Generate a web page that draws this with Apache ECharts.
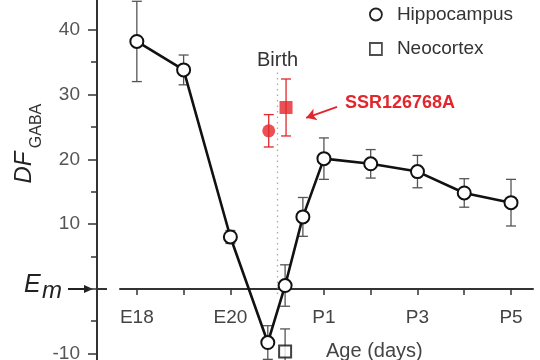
<!DOCTYPE html>
<html><head><meta charset="utf-8">
<script src="https://cdn.jsdelivr.net/npm/echarts@6/dist/echarts.min.js"></script>
<style>html,body{margin:0;padding:0;background:#fff}#c{width:540px;height:360px}</style>
</head><body><div id="c"></div>
<script>
// ---- data ----
const xTickValues = [0, 1, 2, 4, 5, 6, 7, 8];
const xLabelValues = [0, 2, 4, 6, 8];
const xLabelText = {0: 'E18', 2: 'E20', 4: 'P1', 6: 'P3', 8: 'P5'};
const yLabelValues = [40, 30, 20, 10, -10];
const yMajorTicks = [40, 30, 20, 10, 0, -10];
const yMinorTicks = [35, 25, 15, 5, -5];

const hipX = [0, 1, 2, 2.8, 3.17, 3.55, 4, 5, 6, 7, 8];
const hipY = [38.2, 33.8, 8.0, -8.3, 0.5, 11.1, 20.1, 19.3, 18.1, 14.8, 13.3];
const hipErr = [6.2, 2.3, 1, 2.6, 3.2, 3, 3.2, 2.2, 2.5, 2.2, 3.6];

const neoX = [3.17];
const neoY = [-9.7];
const neoErr = [3.5];

const drugCircX = [2.82];
const drugCircY = [24.4];
const drugCircErr = [2.5];
const drugSqX = [3.19];
const drugSqY = [28.0];
const drugSqErr = [4.4];

const birthX = 3;

// ---- build ----
const zip3 = (x, y, e) => x.map((v, i) => [v, y[i], e[i]]);
const zip2 = (x, y) => x.map((v, i) => [v, y[i]]);

function errSeries(name, data, color) {
  return {
    type: 'custom', name: name, data: data, z: 1, silent: true,
    renderItem: function (params, api) {
      const x = api.value(0), y = api.value(1), e = api.value(2);
      const t = api.coord([x, y + e]), b = api.coord([x, y - e]);
      const w = 5;
      const st = {stroke: color, lineWidth: 1.3};
      return {type: 'group', children: [
        {type: 'line', shape: {x1: t[0], y1: t[1], x2: b[0], y2: b[1]}, style: st},
        {type: 'line', shape: {x1: t[0] - w, y1: t[1], x2: t[0] + w, y2: t[1]}, style: st},
        {type: 'line', shape: {x1: b[0] - w, y1: b[1], x2: b[0] + w, y2: b[1]}, style: st}
      ]};
    }
  };
}

const FONT = 'Liberation Sans, Arial, sans-serif';
const RED = '#e3262b';
const XMIN = -0.36, XMAX = 8.47, YMIN = -11, YMAX = 44.6;

const chart = echarts.init(document.getElementById('c'), null, {renderer: 'canvas'});
chart.setOption({
  animation: false,
  backgroundColor: '#fff',
  textStyle: {fontFamily: FONT},
  grid: [
    {left: 120, right: 7, top: 0, bottom: 0, containLabel: false, outerBoundsMode: 'none'},
    {left: 120, right: 7, top: 0, bottom: 71, containLabel: false, outerBoundsMode: 'none'}
  ],
  legend: {
    orient: 'vertical', left: 364, top: 0, itemGap: 15.5,
    itemWidth: 12, itemHeight: 12,
    textStyle: {fontSize: 19, color: '#333', fontFamily: FONT, padding: [0, 0, 0, 10]},
    data: [
      {name: 'Hippocampus', icon: 'circle', itemStyle: {color: '#fff', borderColor: '#222', borderWidth: 1.8}},
      {name: 'Neocortex', icon: 'rect', itemStyle: {color: '#fff', borderColor: '#222', borderWidth: 1.8}}
    ]
  },
  xAxis: [{
    type: 'value', gridIndex: 0, min: XMIN, max: XMAX,
    splitLine: {show: false}, axisLine: {show: false}, axisTick: {show: false}, axisLabel: {show: false}
  }, {
    type: 'value', gridIndex: 1, min: XMIN, max: XMAX, position: 'bottom',
    splitLine: {show: false},
    axisLine: {onZero: false, lineStyle: {color: '#333', width: 2}},
    axisTick: {show: true, length: 6, customValues: xTickValues, lineStyle: {color: '#333', width: 1.5}},
    axisLabel: {customValues: xLabelValues, formatter: v => xLabelText[v] || '', fontSize: 19, color: '#444', margin: 19, fontFamily: FONT}
  }],
  yAxis: [{
    type: 'value', gridIndex: 0, min: YMIN, max: YMAX, offset: 23,
    splitLine: {show: false},
    axisLine: {show: true, onZero: false, lineStyle: {color: '#333', width: 2}},
    axisTick: {show: true, length: 9, customValues: yMajorTicks, lineStyle: {color: '#333', width: 1.5}},
    axisLabel: {customValues: yLabelValues, fontSize: 19, color: '#555', margin: 17, fontFamily: FONT}
  }, {
    type: 'value', gridIndex: 0, min: YMIN, max: YMAX, offset: 23, position: 'left',
    splitLine: {show: false},
    axisLine: {show: false, onZero: false},
    axisTick: {show: true, length: 6, customValues: yMinorTicks, lineStyle: {color: '#333', width: 1.5}},
    axisLabel: {show: false}
  }, {
    type: 'value', gridIndex: 1, min: 0, max: 1, show: false
  }],
  series: [
    errSeries('hipErr', zip3(hipX, hipY, hipErr), '#555'),
    errSeries('neoErr', zip3(neoX, neoY, neoErr), '#555'),
    errSeries('drugCircErr', zip3(drugCircX, drugCircY, drugCircErr), RED),
    errSeries('drugSqErr', zip3(drugSqX, drugSqY, drugSqErr), RED),
    {
      type: 'line', name: 'birthLine', data: [], z: 0, silent: true,
      markLine: {
        silent: true, symbol: ['none', 'none'], label: {show: false},
        lineStyle: {color: '#aaa', type: [1.5, 4], width: 1.3},
        data: [[{coord: [birthX, 33.4]}, {coord: [birthX, -1]}]]
      }
    },
    {
      type: 'line', name: 'arrow', data: [], z: 3, silent: true,
      markLine: {
        silent: true, symbol: ['none', 'arrow'], symbolSize: [9, 10], label: {show: false},
        lineStyle: {color: RED, type: 'solid', width: 2},
        data: [[{coord: [4.28, 28.1]}, {coord: [3.62, 26.4]}]]
      }
    },
    {
      type: 'line', name: 'Hippocampus', data: zip2(hipX, hipY), z: 5,
      symbol: 'circle', symbolSize: 13, showSymbol: true,
      itemStyle: {color: '#fff', borderColor: '#111', borderWidth: 2},
      lineStyle: {color: '#111', width: 2.6}
    },
    {
      type: 'scatter', name: 'Neocortex', data: zip2(neoX, neoY), z: 5,
      symbol: 'rect', symbolSize: 12,
      itemStyle: {color: '#fff', borderColor: '#111', borderWidth: 2}
    },
    {
      type: 'scatter', name: 'SSR circle', data: zip2(drugCircX, drugCircY), z: 5,
      symbol: 'circle', symbolSize: 13, itemStyle: {color: RED}
    },
    {
      type: 'scatter', name: 'SSR square', data: zip2(drugSqX, drugSqY), z: 5,
      symbol: 'rect', symbolSize: 13, itemStyle: {color: RED}
    }
  ],
  graphic: [
    {type: 'text', left: 257, top: 50, style: {text: 'Birth', fontSize: 20, fill: '#333', fontFamily: FONT}},
    {type: 'text', left: 345, top: 94, style: {text: 'SSR126768A', fontSize: 18, fontWeight: 'bold', fill: RED, fontFamily: FONT}},
    {type: 'text', left: 326, top: 341, style: {text: 'Age (days)', fontSize: 20, fill: '#444', fontFamily: FONT}},
    {type: 'text', x: 24, y: 167.5, rotation: Math.PI / 2,
     style: {text: 'DF', fontSize: 24, fontStyle: 'italic', fill: '#222', fontFamily: FONT, align: 'center', verticalAlign: 'middle'}},
    {type: 'text', x: 37, y: 126, rotation: Math.PI / 2,
     style: {text: 'GABA', fontSize: 16, fill: '#333', fontFamily: FONT, align: 'center', verticalAlign: 'middle'}},
    {type: 'text', x: 24, y: 285, style: {text: 'E', fontSize: 25, fontStyle: 'italic', fill: '#222', fontFamily: FONT, align: 'left', verticalAlign: 'middle'}},
    {type: 'text', x: 42, y: 291, style: {text: 'm', fontSize: 24, fontStyle: 'italic', fill: '#222', fontFamily: FONT, align: 'left', verticalAlign: 'middle'}},
    {type: 'line', shape: {x1: 68, y1: 289, x2: 86, y2: 289}, style: {stroke: '#222', lineWidth: 2}},
    {type: 'polygon', shape: {points: [[84, 285], [93, 289], [84, 293]]}, style: {fill: '#222'}},
    {type: 'line', shape: {x1: 97, y1: 289, x2: 107, y2: 289}, style: {stroke: '#333', lineWidth: 2}}
  ]
});
</script></body></html>
